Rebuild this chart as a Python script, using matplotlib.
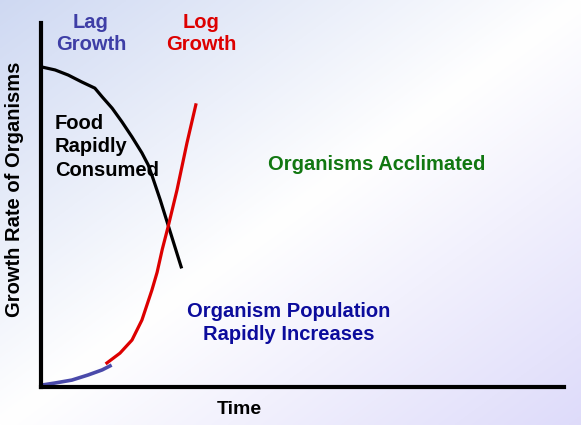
import matplotlib
matplotlib.use("Agg")
import matplotlib.pyplot as plt
import numpy as np

plt.rcParams['font.family'] = ['Liberation Sans', 'DejaVu Sans']
plt.rcParams['font.weight'] = 'bold'

# curves (time 0..100, rate 0..100)
food_t = [0.2, 2.7, 5.2, 7.8, 10.3, 11.7, 13.6, 15.5, 17.4, 19.3, 20.5, 21.2, 22.8, 24.3, 26.8]
food_r = [87.9, 87.1, 85.7, 83.8, 82.1, 79.7, 76.6, 72.8, 68.7, 64.3, 61.0, 58.2, 51.4, 44.5, 33.0]

lag_t = [0, 2.7, 5.9, 9.0, 11.7, 13.2]
lag_r = [0.5, 1.1, 1.9, 3.3, 4.7, 5.8]

log_t = [12.6, 15.1, 17.4, 19.3, 21.2, 22.2, 23.2, 24.3, 26.0, 27.9, 29.6]
log_r = [6.6, 9.3, 12.9, 18.4, 26.6, 31.5, 37.9, 44.0, 54.1, 67.0, 77.5]

W, H = 581, 425
fig = plt.figure(figsize=(W / 100, H / 100), dpi=100)

# background gradient
bg = fig.add_axes([0, 0, 1, 1])
gx, gy = np.meshgrid(np.linspace(0, 1, 300), np.linspace(0, 1, 220))
s = (gx + gy) / 2
c0 = np.array([0.81, 0.85, 0.95])
c1 = np.array([1.0, 1.0, 1.0])
c2 = np.array([0.87, 0.86, 0.98])
w = s[..., None]
img = np.where(w < 0.5, c0 + (c1 - c0) * (w / 0.5), c1 + (c2 - c1) * ((w - 0.5) / 0.5))
bg.imshow(img, extent=[0, 1, 0, 1], aspect='auto', origin='upper')
bg.axis('off')

# main axes
x0, x1, y0, y1 = 41, 564, 387, 23
ax = fig.add_axes([x0 / W, 1 - y0 / H, (x1 - x0) / W, (y0 - y1) / H])
ax.patch.set_alpha(0)
ax.set_xlim(0, 100)
ax.set_ylim(0, 100)
for sp in ['top', 'right']:
    ax.spines[sp].set_visible(False)
for sp in ['left', 'bottom']:
    ax.spines[sp].set_linewidth(3)
    ax.spines[sp].set_color('black')
ax.set_xticks([])
ax.set_yticks([])

ax.plot(food_t, food_r, color='black', lw=2.3, solid_joinstyle='round', clip_on=False)
ax.plot(log_t, log_r, color='#dd0000', lw=2.3, solid_joinstyle='round', clip_on=False)
ax.plot(lag_t, lag_r, color='#4a4aaa', lw=2.6, solid_joinstyle='round', clip_on=False)


def ftext(px, py, txt, **kw):
    fig.text(px / W, 1 - py / H, txt, fontweight='bold', **kw)


ftext(91, 33, "Lag\nGrowth", color='#3e3ea6', fontsize=14.5, ha='center', va='center', linespacing=1.2)
ftext(201, 33, "Log\nGrowth", color='#dd0000', fontsize=14.5, ha='center', va='center', linespacing=1.2)
ftext(55, 147, "Food\nRapidly\nConsumed", color='black', fontsize=14.5, ha='left', va='center', linespacing=1.27)
ftext(377, 164, "Organisms Acclimated", color='#117711', fontsize=14.5, ha='center', va='center')
ftext(289, 323, "Organism Population\nRapidly Increases", color='#0c0c9c', fontsize=14.5, ha='center', va='center', linespacing=1.27)
ftext(239, 410, "Time", color='black', fontsize=14, ha='center', va='center')
ftext(15, 189, "Growth Rate of Organisms", color='black', fontsize=14.5, ha='center', va='center', rotation=90)

fig.savefig("out.png", dpi=100)
